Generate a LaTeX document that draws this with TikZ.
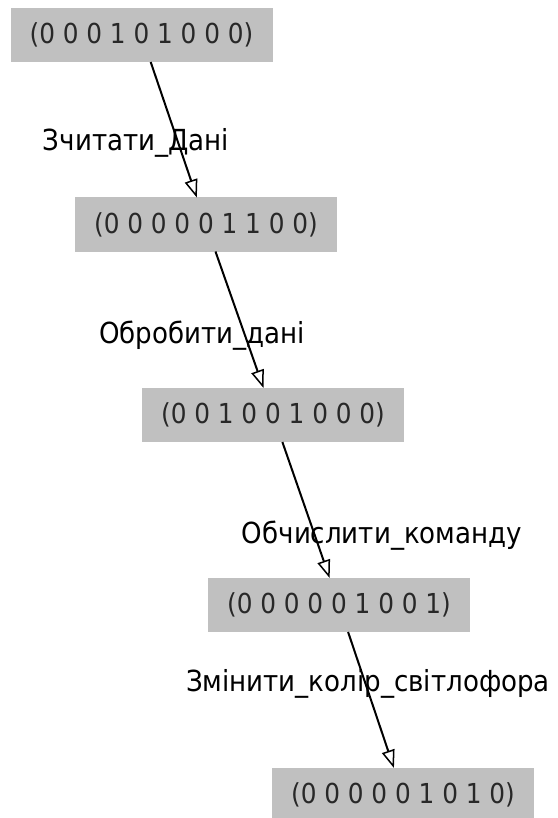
\documentclass[tikz,border=0pt]{standalone}
\usepackage{fontspec}
\setmainfont{DejaVu Sans Condensed}
\usetikzlibrary{arrows.meta}
\definecolor{statefill}{RGB}{192,192,192}
\definecolor{statetext}{RGB}{40,40,40}
\tikzset{
  state/.style={rectangle, fill=statefill, text=statetext, minimum width=262pt,
    minimum height=54pt, inner sep=0pt, outer sep=0pt,
    font=\fontsize{27.5}{32}\selectfont},
  trans/.style={draw=black, line width=2pt,
    -{Triangle[open, length=18pt, width=13pt, line width=1.5pt]}},
  tlabel/.style={text=black, inner sep=0pt, font=\fontsize{29}{33}\selectfont}
}
\begin{document}
\begin{tikzpicture}[x=1pt, y=-1pt]
  \useasboundingbox (0,0) rectangle (557,818);
  \clip (0,0) rectangle (557,818);
  \fill[white] (0,0) rectangle (557,818);
  % states
  \node[state] (s1) at (141.5,35)  {(0 0 0 1 0 1 0 0 0)};
  \node[state] (s2) at (206,224.5) {(0 0 0 0 0 1 1 0 0)};
  \node[state] (s3) at (273,415)   {(0 0 1 0 0 1 0 0 0)};
  \node[state] (s4) at (339,605)   {(0 0 0 0 0 1 0 0 1)};
  \node[state] (s5) at (403,795)   {(0 0 0 0 0 1 0 1 0)};
  % transitions
  \draw[trans] (s1) -- (s2);
  \draw[trans] (s2) -- (s3);
  \draw[trans] (s3) -- (s4);
  \draw[trans] (s4) -- (s5);
  % transition names
  \node[tlabel] (t1) at (136,143) {Зчитати\_Дані};
  \node[tlabel] (t2) at (202,336) {Обробити\_дані};
  \node[tlabel] (t3) at (382,536) {Обчислити\_команду};
  \node[tlabel] (t4) at (368,684) {Змінити\_колір\_світлофора};
\end{tikzpicture}
\end{document}
